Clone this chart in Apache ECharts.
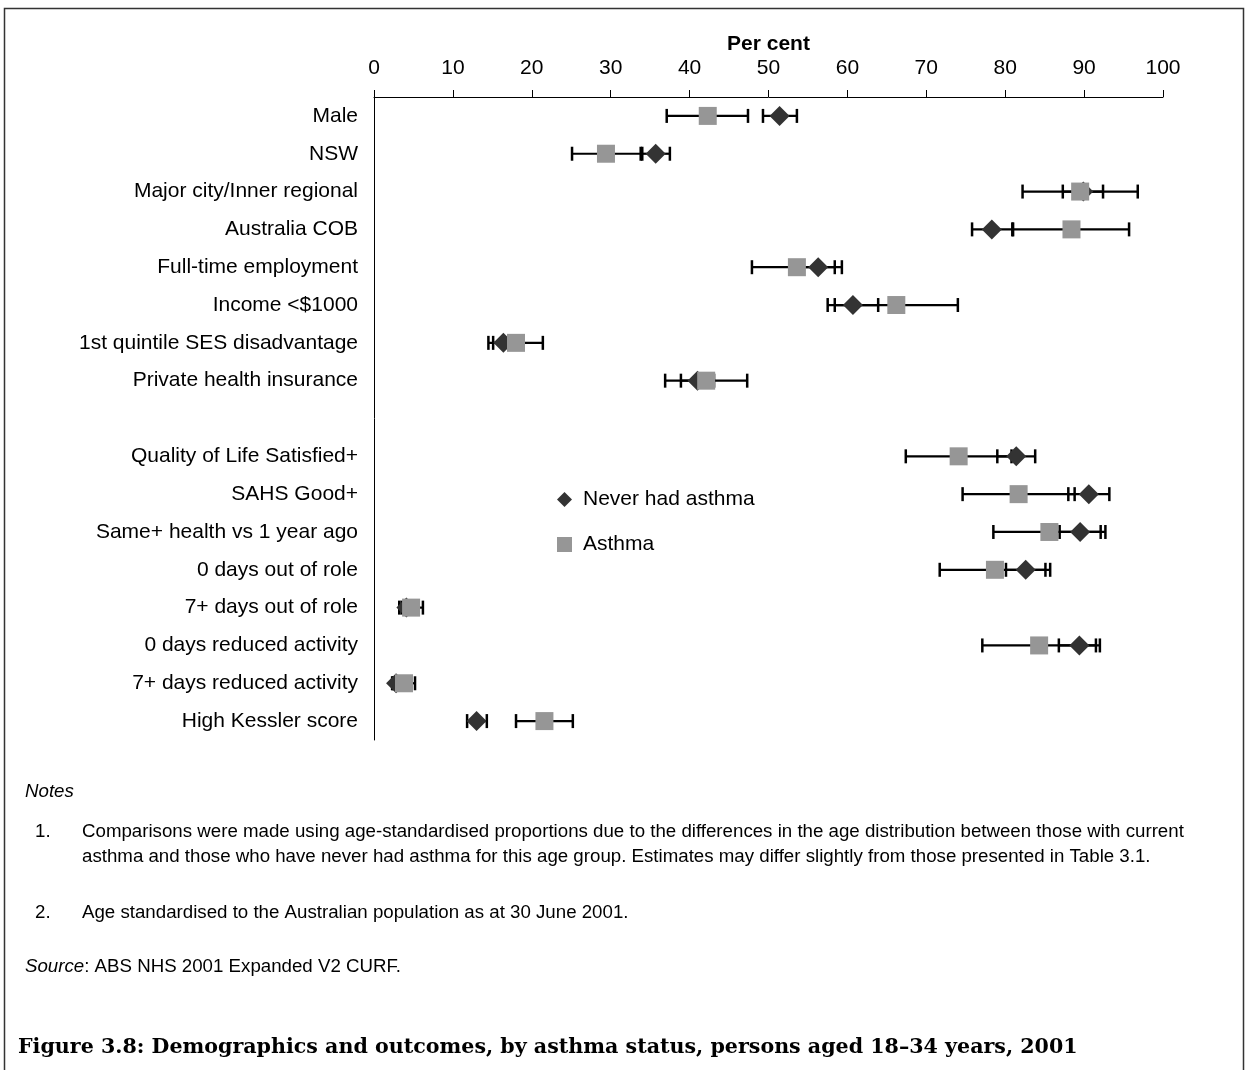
<!DOCTYPE html>
<html>
<head>
<meta charset="utf-8">
<script src="https://cdn.jsdelivr.net/npm/echarts@6/dist/echarts.min.js"></script>
<style>
  html, body { margin: 0; padding: 0; background: #fff; }
  #chart { width: 1245px; height: 1070px; }
</style>
</head>
<body>
<div id="chart"></div>
<script>
// Row labels (the empty entry is the spacer between demographics and outcomes)
const categories = [
  'Male', 'NSW', 'Major city/Inner regional', 'Australia COB', 'Full-time employment',
  'Income <$1000', '1st quintile SES disadvantage', 'Private health insurance', '',
  'Quality of Life Satisfied+', 'SAHS Good+', 'Same+ health vs 1 year ago',
  '0 days out of role', '7+ days out of role', '0 days reduced activity',
  '7+ days reduced activity', 'High Kessler score'
];

// Never had asthma: estimate and 95% CI (per cent)
const neverValue = [51.4, 35.7, 89.9, 78.3, 56.3, 60.7, 16.4, 41.0, null, 81.4, 90.6, 89.5, 82.6, 4.1, 89.4, 2.8, 13.0];
const neverLow   = [49.3, 34.0, 87.3, 75.8, 54.2, 57.5, 15.1, 38.9, null, 79.0, 88.0, 86.9, 80.1, 3.5, 86.8, 2.3, 11.8];
const neverHigh  = [53.6, 37.5, 92.4, 80.9, 58.4, 63.9, 17.7, 43.1, null, 83.8, 93.2, 92.1, 85.1, 4.7, 92.0, 3.3, 14.3];

// Asthma: estimate and 95% CI (per cent)
const asthmaValue = [42.3, 29.4, 89.5, 88.4, 53.6, 66.2, 18.0, 42.1, null, 74.1, 81.7, 85.6, 78.7, 4.7, 84.3, 3.8, 21.6];
const asthmaLow   = [37.1, 25.1, 82.2, 81.0, 47.9, 58.4, 14.5, 36.9, null, 67.4, 74.6, 78.5, 71.7, 3.2, 77.1, 2.4, 18.0];
const asthmaHigh  = [47.4, 33.8, 96.8, 95.7, 59.3, 74.0, 21.4, 47.3, null, 80.8, 88.8, 92.7, 85.7, 6.2, 91.5, 5.2, 25.2];

const xTicks = { min: 0, max: 100, interval: 10 };

const FONT = 'Liberation Sans, Arial, sans-serif';

function pointData(values) {
  const out = [];
  values.forEach((v, i) => { if (v != null) out.push([v, i]); });
  return out;
}
function rangeData(low, high) {
  const out = [];
  low.forEach((v, i) => { if (v != null) out.push([v, high[i], i]); });
  return out;
}

// Horizontal confidence-interval bar with end caps
function errorBars(name, low, high) {
  return {
    type: 'custom',
    name: name,
    z: 2,
    silent: true,
    data: rangeData(low, high),
    encode: { x: [0, 1], y: 2 },
    renderItem: function (params, api) {
      const row = api.value(2);
      const a = api.coord([api.value(0), row]);
      const b = api.coord([api.value(1), row]);
      const cap = 7;
      const capStyle = { stroke: '#000', lineWidth: 2.5 };
      return {
        type: 'group',
        children: [
          { type: 'line', shape: { x1: a[0], y1: a[1], x2: b[0], y2: b[1] }, style: { stroke: '#000', lineWidth: 2.2 } },
          { type: 'line', shape: { x1: a[0], y1: a[1] - cap, x2: a[0], y2: a[1] + cap }, style: capStyle },
          { type: 'line', shape: { x1: b[0], y1: b[1] - cap, x2: b[0], y2: b[1] + cap }, style: capStyle }
        ]
      };
    }
  };
}

const chart = echarts.init(document.getElementById('chart'), null, { renderer: 'canvas' });

const NOTE_SIZE = 18.7;
function note(x, y, text, extra) {
  return {
    type: 'text', silent: true,
    style: Object.assign({
      x: x, y: y, text: text, verticalAlign: 'middle', align: 'left',
      fontFamily: FONT, fontSize: NOTE_SIZE, fill: '#000'
    }, extra || {})
  };
}

chart.setOption({
  animation: false,
  backgroundColor: '#fff',
  grid: { left: 374, top: 97, width: 789, height: 643, containLabel: false },
  xAxis: {
    type: 'value',
    position: 'top',
    min: xTicks.min, max: xTicks.max, interval: xTicks.interval,
    name: 'Per cent',
    nameLocation: 'middle',
    nameGap: 42,
    nameMoveOverlap: false,
    nameTextStyle: { fontFamily: FONT, fontSize: 21, fontWeight: 'bold', color: '#000' },
    axisLine: { show: true, lineStyle: { color: '#000', width: 1 } },
    axisTick: { show: true, length: 7, lineStyle: { color: '#000', width: 1 } },
    axisLabel: { fontFamily: FONT, fontSize: 21, color: '#000', margin: 18 },
    splitLine: { show: false }
  },
  yAxis: {
    type: 'category',
    inverse: true,
    data: categories,
    axisLine: { show: true, lineStyle: { color: '#000', width: 1 } },
    axisTick: { show: false },
    axisLabel: { fontFamily: FONT, fontSize: 21, color: '#000', margin: 16 },
    splitLine: { show: false }
  },
  legend: {
    orient: 'vertical',
    left: 552,
    top: 484,
    itemWidth: 15,
    itemHeight: 15,
    itemGap: 24,
    data: ['Never had asthma', 'Asthma'],
    textStyle: { fontFamily: FONT, fontSize: 21, color: '#000', padding: [0, 0, 0, 6] },
    selectedMode: false
  },
  series: [
    errorBars('Never had asthma CI', neverLow, neverHigh),
    errorBars('Asthma CI', asthmaLow, asthmaHigh),
    {
      type: 'scatter',
      name: 'Never had asthma',
      z: 3,
      symbol: 'diamond',
      symbolSize: [20, 20],
      itemStyle: { color: '#333333', opacity: 1 },
      data: pointData(neverValue)
    },
    {
      type: 'scatter',
      name: 'Asthma',
      z: 4,
      symbol: 'rect',
      symbolSize: [18, 18],
      itemStyle: { color: '#969696', opacity: 1 },
      data: pointData(asthmaValue)
    }
  ],
  graphic: [
    {
      type: 'rect', silent: true, z: 0,
      shape: { x: 4.5, y: 8.5, width: 1239, height: 1100 },
      style: { fill: 'none', stroke: '#333', lineWidth: 1.5 }
    },
    note(25, 792, 'Notes', { fontStyle: 'italic' }),
    note(35, 832, '1.'),
    note(82, 832, 'Comparisons were made using age-standardised proportions due to the differences in the age distribution between those with current'),
    note(82, 857, 'asthma and those who have never had asthma for this age group. Estimates may differ slightly from those presented in Table 3.1.'),
    note(35, 913, '2.'),
    note(82, 913, 'Age standardised to the Australian population as at 30 June 2001.'),
    note(25, 967, '{i|Source}: ABS NHS 2001 Expanded V2 CURF.', {
      rich: { i: { fontFamily: FONT, fontSize: NOTE_SIZE, fontStyle: 'italic', fill: '#000' } }
    }),
    {
      type: 'text', silent: true,
      style: {
        x: 18, y: 1048, verticalAlign: 'middle', align: 'left',
        text: 'Figure 3.8: Demographics and outcomes, by asthma status, persons aged 18\u201334 years, 2001',
        fontFamily: 'DejaVu Serif, serif', fontSize: 20.6, fontWeight: 'bold', fill: '#000'
      }
    }
  ]
});
</script>
</body>
</html>
